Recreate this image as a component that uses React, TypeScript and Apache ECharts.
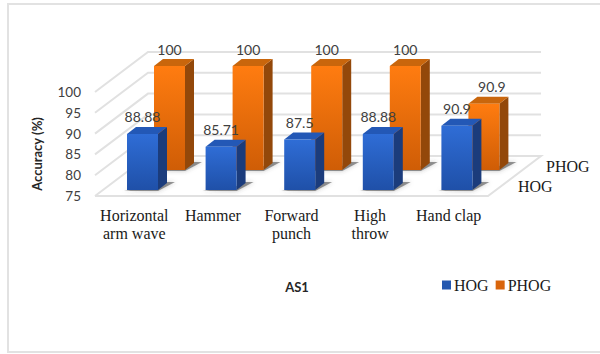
import React, { useEffect, useRef } from "react";
import * as echarts from "echarts";

const categories = ["Horizontal\narm wave", "Hammer", "Forward\npunch", "High\nthrow", "Hand clap"];
const hogValues = [88.88, 85.71, 87.5, 88.88, 90.9];
const phogValues = [100, 100, 100, 100, 90.9];
const axisTicks = [75, 80, 85, 90, 95, 100];
const seriesNames = ["HOG", "PHOG"];
const axisBase = 75;

const GRID = { left: 95, right: 112, top: 92, bottom: 158 };
const FLOOR_DX = 53;
const FLOOR_DY = -40;
const BAR_W = 31;
const BAR_DX = 9;
const BAR_DY = -7;
const WALL = "#e1e1e1";
const LABEL_FONT = "Lato, 'Noto Sans', sans-serif";
const SERIF = "'Liberation Serif', 'Times New Roman', serif";

const linear = (top: string, bottom: string) => ({
  type: "linear", x: 0, y: 0, x2: 0, y2: 1,
  colorStops: [{ offset: 0, color: top }, { offset: 1, color: bottom }],
});

// Each row sits at its own depth on the floor; the nearer row is foreshortened slightly.
const rows = {
  HOG: {
    shiftX: -7.3, shiftY: -6, scale: 0.97,
    front: linear("#2f6dd6", "#1f50a8"), side: "#1b3c7c", top: "#2358b6",
  },
  PHOG: {
    shiftX: 19.7, shiftY: -26, scale: 1,
    front: linear("#ff7c10", "#cf5d06"), side: "#93480a", top: "#c9660c",
  },
};

// A light wall line for one axis tick, running along the side wall and the back wall.
const renderWallLine = (params: any, api: any) => {
  const cs = params.coordSys;
  const value = api.value(0);
  const y = api.coord([0, value])[1];
  const left = cs.x;
  const right = cs.x + cs.width;
  const children: any[] = [
    {
      type: "polyline",
      shape: {
        points: value === axisBase
          ? [[left, y], [right, y], [right + FLOOR_DX, y + FLOOR_DY], [left + FLOOR_DX, y + FLOOR_DY], [left, y]]
          : [[left, y], [left + FLOOR_DX, y + FLOOR_DY], [right + FLOOR_DX, y + FLOOR_DY]],
      },
      style: { stroke: WALL, lineWidth: 2, fill: null },
    },
  ];
  return { type: "group", children };
};

const renderBar = (rowName: "HOG" | "PHOG") => (params: any, api: any) => {
  const row = rows[rowName];
  const index = api.value(0);
  const value = api.value(1);
  const [cx, zeroY] = api.coord([index, axisBase]);
  const rawTop = api.coord([index, value])[1];
  const x0 = cx + row.shiftX;
  const x1 = x0 + BAR_W;
  const base = zeroY + row.shiftY;
  const top = base - (zeroY - rawTop) * row.scale;
  const labelNudge = rowName === "PHOG" && index === categories.length - 1 ? 8 : 0;

  return {
    type: "group",
    children: [
      {
        type: "polygon",
        shape: {
          points: [
            [x0 - 3, base + 1], [x1, base + 1], [x1 + BAR_DX + 8, base + BAR_DY - 1],
            [x1 + BAR_DX, base + BAR_DY - 1], [x1, base - 4],
          ],
        },
        style: { fill: "rgba(70,70,70,0.55)", shadowBlur: 4, shadowColor: "rgba(70,70,70,0.6)" },
      },
      {
        type: "polygon",
        shape: { points: [[x1, top], [x1 + BAR_DX, top + BAR_DY], [x1 + BAR_DX, base + BAR_DY], [x1, base]] },
        style: { fill: row.side },
      },
      {
        type: "polygon",
        shape: { points: [[x0, top], [x0 + BAR_DX, top + BAR_DY], [x1 + BAR_DX, top + BAR_DY], [x1, top]] },
        style: { fill: row.top },
      },
      {
        type: "rect",
        shape: { x: x0, y: top, width: BAR_W, height: base - top },
        style: { fill: row.front },
      },
      {
        type: "text",
        style: {
          text: String(value),
          x: (x0 + x1) / 2 + labelNudge,
          y: top - 17,
          align: "center",
          verticalAlign: "middle",
          fontFamily: LABEL_FONT,
          fontSize: 14,
          fill: "#404040",
        },
      },
    ],
  };
};

const toPairs = (values: number[]) => values.map((v, i) => [i, v]);

export default function App() {
  const ref = useRef<HTMLDivElement>(null);

  useEffect(() => {
    const chart = echarts.init(ref.current!, undefined, { renderer: "svg" });
    chart.setOption({
      animation: false,
      backgroundColor: "#ffffff",
      grid: GRID,
      legend: {
        data: seriesNames,
        left: 442,
        top: 277,
        padding: 0,
        icon: "rect",
        itemWidth: 9,
        itemHeight: 9,
        itemGap: 7,
        selectedMode: false,
        textStyle: { fontFamily: SERIF, fontSize: 16, color: "#1a1a1a", padding: [0, 0, 0, -2] },
      },
      xAxis: {
        type: "category",
        data: categories,
        axisLine: { show: false },
        axisTick: { show: false },
        axisLabel: {
          margin: 10,
          interval: 0,
          fontFamily: SERIF,
          fontSize: 16,
          lineHeight: 18,
          color: "#1a1a1a",
        },
      },
      yAxis: {
        type: "value",
        min: 75,
        max: 100,
        interval: 5,
        splitLine: { show: false },
        axisLine: { show: false },
        axisTick: { show: false },
        axisLabel: { margin: 14, fontFamily: LABEL_FONT, fontSize: 13.5, color: "#404040" },
      },
      graphic: [
        {
          type: "rect",
          silent: true,
          z: -1,
          shape: { x: 8, y: 4, width: 610, height: 348 },
          style: { fill: "none", stroke: "#e2e2e2", lineWidth: 2 },
        },
        {
          type: "text",
          x: 37,
          y: 154,
          rotation: Math.PI / 2,
          style: {
            text: "Accuracy (%)",
            align: "center",
            verticalAlign: "middle",
            fontFamily: LABEL_FONT,
            fontWeight: "bold",
            fontSize: 13,
            fill: "#262626",
          },
        },
        {
          type: "text",
          x: 297,
          y: 287,
          style: {
            text: "AS1",
            align: "center",
            verticalAlign: "middle",
            fontFamily: LABEL_FONT,
            fontWeight: "bold",
            fontSize: 13,
            fill: "#262626",
          },
        },
        {
          type: "text",
          x: 546,
          y: 166,
          style: { text: seriesNames[1], verticalAlign: "middle", fontFamily: SERIF, fontSize: 16, fill: "#1a1a1a" },
        },
        {
          type: "text",
          x: 518,
          y: 186,
          style: { text: seriesNames[0], verticalAlign: "middle", fontFamily: SERIF, fontSize: 16, fill: "#1a1a1a" },
        },
      ],
      series: [
        {
          type: "custom",
          name: "walls",
          silent: true,
          data: axisTicks.map((t) => [t]),
          encode: { y: 0 },
          renderItem: renderWallLine,
        },
        {
          type: "custom",
          name: "PHOG",
          itemStyle: { color: "#d9650c" },
          data: toPairs(phogValues),
          encode: { x: 0, y: 1 },
          renderItem: renderBar("PHOG"),
        },
        {
          type: "custom",
          name: "HOG",
          itemStyle: { color: "#2458b0" },
          data: toPairs(hogValues),
          encode: { x: 0, y: 1 },
          renderItem: renderBar("HOG"),
        },
      ],
    });
    return () => chart.dispose();
  }, []);

  return (
    <div
      ref={ref}
      style={{ position: "absolute", left: 0, top: 0, width: 600, height: 354 }}
    />
  );
}
